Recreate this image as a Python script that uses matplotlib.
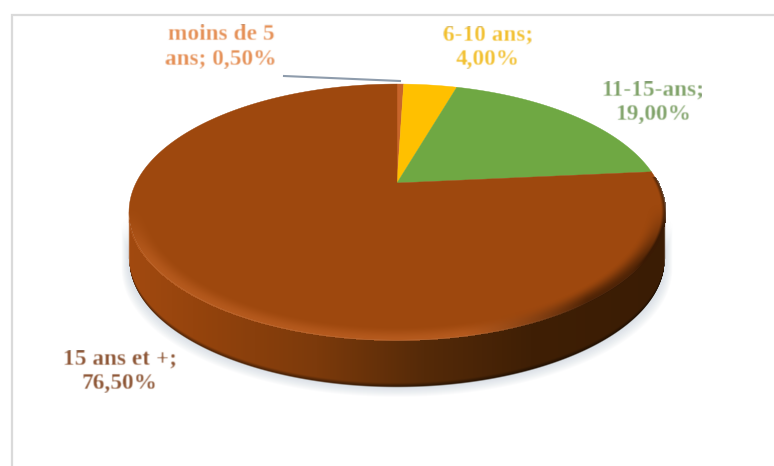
import numpy as np
import matplotlib
matplotlib.use("Agg")
import matplotlib.pyplot as plt
from matplotlib.colors import to_rgb

categories = ["moins de 5 ans", "6-10 ans", "11-15-ans", "15 ans et +"]
values = [0.50, 4.00, 19.00, 76.50]
slice_colors = ["#C8652B", "#FFC000", "#6FA843", "#9E480E"]

W, H = 774, 466
CX, CY, A, B, K = 397.0, 183.0, 261.0, 121.4, 0.2266
DEPTH = 47.0


def project(x, y):
    w = 1 + K * y
    return CX + A * x / w, CY - B * y / w


def unproject(X, Y):
    xp = (X - CX) / A
    yp = (CY - Y) / B
    y = yp / (1 - K * yp)
    return xp * (1 + K * y), y


def smooth(t):
    t = np.clip(t, 0, 1)
    return t * t * (3 - 2 * t)


def blur(image, dpi):
    out = image.astype(float)
    kernel = np.array([0.2, 0.6, 0.2])
    for axis in (0, 1):
        out = np.apply_along_axis(lambda c: np.convolve(c, kernel, mode="same"), axis, out)
    return out, 0, 0


fig = plt.figure(figsize=(W / 100, H / 100), dpi=100)
ax = fig.add_axes([0, 0, 1, 1])
ax.set_xlim(0, W)
ax.set_ylim(H, 0)
ax.axis("off")

# frame
ax.plot([12, 12, W], [H, 15, 15], color="#DADADA", lw=1.6, solid_joinstyle="miter", zorder=1)

# pixel grid
YY, XX = np.mgrid[0.5:H, 0.5:W]

# front half of the rim, from one widest point to the other
widest = np.arccos(-K)
front = np.linspace(widest, 2 * np.pi - widest, 1200)
fx, fy = project(np.sin(front), np.cos(front))
order = np.argsort(fx)
rim = np.interp(XX[0], fx[order], fy[order])
left, right = fx.min(), fx.max()

# soft shadow below the wall
for i in range(10):
    grow = 1.0 + i * 1.1
    sx = CX + (fx - CX) * (1 + grow / 400)
    sy = fy + DEPTH + grow * 0.9
    ax.fill(np.r_[sx, sx[::-1]], np.r_[sy, sy[::-1] - DEPTH], color="#B4C1CE", alpha=0.05, lw=0, zorder=2)

# side wall
u = (XX - left) / (right - left)
stops_u = [0.0, 0.12, 0.35, 0.55, 0.75, 1.0]
stops_c = np.array([to_rgb(c) for c in ["#A24A10", "#96440D", "#7C3A0B", "#552A08", "#3F1F05", "#3A1C04"]])
side = np.dstack([np.interp(u, stops_u, stops_c[:, i]) for i in range(3)])
dy = YY - rim[None, :].repeat(H, axis=0)
side *= (1 - 0.45 * smooth((dy - DEPTH + 5) / 5))[..., None]
alpha = smooth((dy + 1) / 2) * smooth((DEPTH + 1 - dy) / 2)
alpha = alpha * smooth((XX - left + 1) / 2) * smooth((right + 1 - XX) / 2)
ax.imshow(np.dstack([side, alpha]), extent=(0, W, H, 0), aspect="auto", zorder=3, interpolation="bilinear")

# top face, one slice per value
edges = np.cumsum([0] + values) / sum(values) * 2 * np.pi
for start, stop, color in zip(edges[:-1], edges[1:], slice_colors):
    t = np.linspace(start, stop, max(int((stop - start) * 120), 4))
    px, py = project(np.sin(t), np.cos(t))
    ax.fill(np.r_[CX, px], np.r_[CY, py], color=color, lw=0.3, ec=color, zorder=4)

# bevel along the rim of the top face
ux, uy = unproject(XX, YY)
r = np.hypot(ux, uy)
band = smooth((r - 0.93) / 0.07) * (r <= 1.005)
front_w = smooth((-uy - 0.15) / 0.45)
dark_amt = np.clip((ux - 0.2) / 0.4, 0, 1)
right_rim = smooth((r - 0.985) / 0.015) * smooth((ux - 0.75) / 0.2) * (r <= 1.005) * (uy < 0.05)
rgb = np.zeros((H, W, 3))
for i, (lc, dc) in enumerate(zip(to_rgb("#C8682A"), to_rgb("#3A1A04"))):
    rgb[..., i] = lc * (1 - dark_amt) + dc * dark_amt
bevel_alpha = np.clip(band * front_w * (0.55 * (1 - dark_amt) + 0.8 * dark_amt) + right_rim * 0.7, 0, 1)
ax.imshow(np.dstack([rgb, bevel_alpha]), extent=(0, W, H, 0), aspect="auto", zorder=5, interpolation="bilinear")
ax.set_xlim(0, W)
ax.set_ylim(H, 0)

# leader line
ax.plot([284, 400], [76, 81], color="#8E9CAC", lw=1.5, zorder=6)

# data labels
label_texts = ["moins de 5\nans; 0,50%", "6-10 ans;\n4,00%", "11-15-ans;\n19,00%", "15 ans et +;\n76,50%"]
label_pos = [(221, 47), (488, 47), (653, 102), (120, 371)]
label_colors = ["#E58F55", "#F3C02E", "#7FA268", "#8C5433"]
for s, (x, y), c in zip(label_texts, label_pos, label_colors):
    t = ax.text(x, y, s, ha="center", va="center", family="Liberation Serif", weight="bold",
                fontsize=16.8, color=c, linespacing=1.25, zorder=7)
    t.set_agg_filter(blur)

fig.savefig("out.png", dpi=100)
